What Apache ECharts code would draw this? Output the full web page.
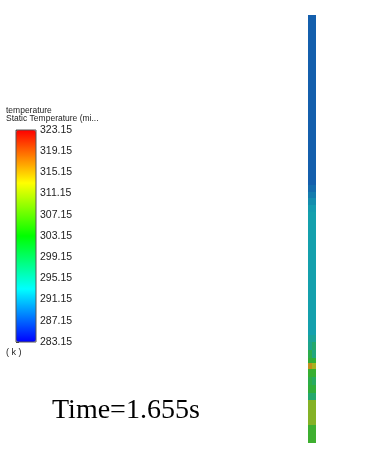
<!DOCTYPE html>
<html><head><meta charset="utf-8">
<script src="https://cdn.jsdelivr.net/npm/echarts@6/dist/echarts.min.js"></script>
<style>html,body{margin:0;padding:0;background:#fff}#c{width:379px;height:466px}</style>
</head><body><div id="c"></div>
<script>
// ---- data ----
const legendTitle = 'temperature';
const legendSubtitle = 'Static Temperature (mi...';
const unitLabel = '( k )';
const timeLabel = 'Time=1.655s';
const tempMin = 283.15, tempMax = 323.15, tempStep = 4;
// rainbow colour stops of the legend (283.15 -> 323.15)
const legendColors = ['#0000ff', '#00ffff', '#00ff00', '#ffff00', '#ff0000'];
// shaded colour stops used on the column surface
const surfaceColors = ['#1414aa', '#14a0af', '#32af32', '#beb41e', '#be1e14'];
// column cells: [xStart, xEnd, heightStart, heightEnd, temperature (K)]
// x: 0..2 across the column width, height: 0 (bottom) .. 428 (top)
const columnCells = [
  [0, 2, 258, 428, 288.5],
  [0, 2, 251, 258, 289.4],
  [0, 2, 245, 251, 290.6],
  [0, 2, 238, 245, 291.8],
  [0, 2, 231, 238, 292.8],
  [0, 2, 108, 231, 293.3],
  [0, 2, 101, 108, 295.0],
  [0, 1, 93, 101, 296.0],
  [1, 2, 93, 101, 298.5],
  [0, 1, 85, 93, 301.0],
  [1, 2, 85, 93, 297.0],
  [0, 2, 80, 85, 302.8],
  [0, 1, 74, 80, 315.5],
  [1, 2, 74, 80, 311.5],
  [0, 2, 66, 74, 303.5],
  [0, 1, 58, 66, 301.5],
  [1, 2, 58, 66, 299.5],
  [0, 2, 50, 58, 302.5],
  [0, 2, 43, 50, 298.5],
  [0, 2, 18, 43, 309.0],
  [0, 2, 0, 18, 304.0]
];

const chart = echarts.init(document.getElementById('c'), null, {renderer: 'canvas'});
const txtFont = 'Liberation Sans, Arial, sans-serif';
chart.setOption({
  animation: false,
  backgroundColor: '#ffffff',
  grid: [
    {left: 308, top: 15, width: 8, height: 428, show: false},
    {left: 16, top: 130, width: 20, height: 212, show: true, borderColor: '#555', borderWidth: 1, backgroundColor: 'transparent', z: 10}
  ],
  xAxis: [
    {gridIndex: 0, type: 'value', min: 0, max: 2, show: false},
    {gridIndex: 1, type: 'value', min: 0, max: 1, show: false}
  ],
  yAxis: [
    {gridIndex: 0, type: 'value', min: 0, max: 428, show: false},
    {gridIndex: 1, type: 'value', position: 'right', min: tempMin, max: tempMax, interval: tempStep,
     axisLine: {show: false}, splitLine: {show: false},
     axisTick: {show: true, length: 3, lineStyle: {color: '#333'}},
     axisLabel: {margin: 4, fontSize: 10.5, color: '#222', fontFamily: txtFont,
       formatter: v => (Math.round(v * 100) / 100).toFixed(2)}}
  ],
  visualMap: [
    {type: 'continuous', show: false, seriesIndex: 0, dimension: 4, min: tempMin, max: tempMax,
     inRange: {color: surfaceColors}},
    {type: 'continuous', show: true, seriesIndex: 1, min: tempMin, max: tempMax,
     left: 16, top: 130, itemWidth: 20, itemHeight: 212, padding: 0, calculable: false,
     hoverLink: false, text: null, showLabel: false, inRange: {color: legendColors}}
  ],
  series: [
    {type: 'custom', xAxisIndex: 0, yAxisIndex: 0, data: columnCells,
     encode: {x: [0, 1], y: [2, 3]},
     renderItem: function (params, api) {
       const p0 = api.coord([api.value(0), api.value(3)]);
       const p1 = api.coord([api.value(1), api.value(2)]);
       return {type: 'rect', shape: {x: p0[0], y: p0[1], width: p1[0] - p0[0], height: p1[1] - p0[1]},
               style: {fill: api.visual('color'), stroke: null}};
     }},
    {type: 'scatter', xAxisIndex: 1, yAxisIndex: 1, data: []}
  ],
  graphic: [
    {type: 'text', left: 6, top: 106, style: {text: legendTitle, font: '8.5px ' + txtFont, fill: '#222'}},
    {type: 'text', left: 6, top: 114, style: {text: legendSubtitle, font: '8.5px ' + txtFont, fill: '#222'}},
    {type: 'text', left: 6, top: 348, style: {text: unitLabel, font: '9px ' + txtFont, fill: '#222'}},
    {type: 'text', left: 52, top: 397, style: {text: timeLabel, font: '28px "Liberation Serif", "Times New Roman", serif', fill: '#000'}}
  ]
});
</script></body></html>
